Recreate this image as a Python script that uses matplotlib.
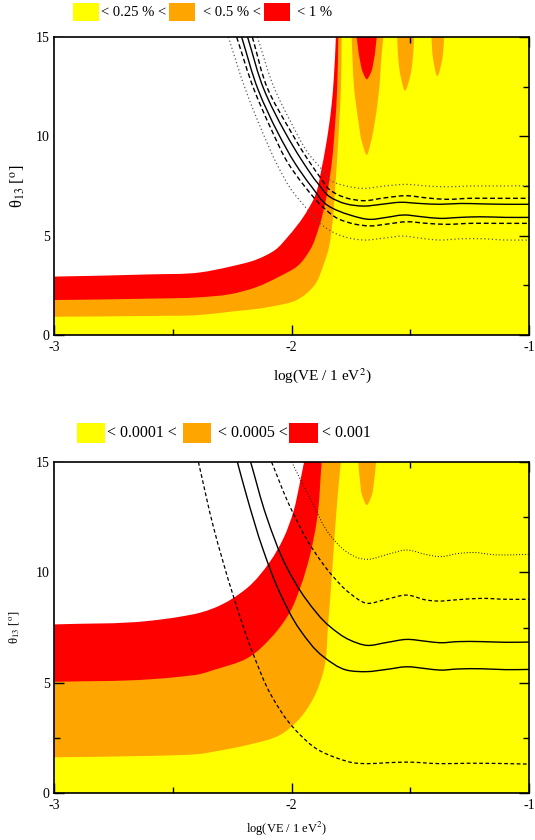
import matplotlib
matplotlib.use("Agg")
import math
import matplotlib.pyplot as plt
from matplotlib.patches import Rectangle, PathPatch
from matplotlib.path import Path

plt.rcParams['font.family'] = ['Liberation Serif', 'DejaVu Serif']
plt.rcParams['mathtext.fontset'] = 'stix'

YELLOW = '#ffff00'
ORANGE = '#ffa500'
RED = '#ff0000'

# ---------------- top panel data ----------------
top_legend = ['< 0.25 % <', '< 0.5 % <', '< 1 %']

# boundary white/red (x=log dm2, y=theta13)
t_red_top_x = [-3.0, -2.6, -2.385, -2.259, -2.147, -2.069, -2.015, -1.947, -1.901, -1.873, -1.845, -1.831, -1.822, -1.813]
t_red_top_y = [2.94, 3.05, 3.15, 3.44, 3.8, 4.28, 4.95, 6.0, 7.0, 8.4, 10.3, 11.6, 12.9, 15.0]
# boundary red/orange
t_red_bot_x = [-3.0, -2.6, -2.385, -2.26, -2.15, -2.05, -1.978, -1.922, -1.885, -1.852, -1.831, -1.817, -1.808, -1.803]
t_red_bot_y = [1.76, 1.83, 1.90, 2.05, 2.4, 2.95, 3.44, 4.28, 5.4, 7.0, 8.6, 10.5, 12.3, 15.0]
# boundary orange/yellow
t_or_bot_x = [-3.0, -2.6, -2.385, -2.259, -2.1, -1.978, -1.908, -1.866, -1.845, -1.828, -1.817, -1.807, -1.799, -1.792, -1.789]
t_or_bot_y = [0.92, 0.96, 1.01, 1.17, 1.4, 1.76, 2.43, 3.5, 4.28, 5.6, 7.3, 9.0, 10.65, 12.33, 15.0]

# fingers near the top
t_fing_red_x = [-1.726, -1.712, -1.698, -1.683, -1.667, -1.653, -1.641]
t_fing_red_y = [15.0, 13.84, 13.17, 12.87, 13.17, 13.84, 15.0]
t_fing_or1_x = [-1.747, -1.744, -1.737, -1.719, -1.702, -1.683, -1.667, -1.648, -1.630, -1.620, -1.613]
t_fing_or1_y = [15.0, 14.18, 12.5, 10.82, 9.65, 9.06, 9.65, 10.82, 12.5, 14.18, 15.0]
t_fing_or2_x = [-1.555, -1.550, -1.540, -1.522, -1.501, -1.490, -1.484]
t_fing_or2_y = [15.0, 13.84, 13.0, 12.30, 13.0, 13.84, 15.0]
t_fing_or3_x = [-1.411, -1.403, -1.386, -1.366, -1.357]
t_fing_or3_y = [15.0, 13.84, 13.03, 13.84, 15.0]

# curves (top panel)
t_dot_lo_x = [-2.266, -2.193, -2.126, -2.056, -2.0, -1.943, -1.873, -1.803, -1.745, -1.698, -1.61, -1.529, -1.45, -1.375, -1.29, -1.206, -1.1, -1.0]
t_dot_lo_y = [15.0, 12.33, 10.32, 8.47, 7.30, 6.46, 5.55, 5.05, 4.85, 4.78, 4.88, 4.98, 4.86, 4.78, 4.84, 4.85, 4.78, 4.78]
t_dash_lo_x = [-2.231, -2.157, -2.084, -2.014, -1.943, -1.873, -1.803, -1.733, -1.669, -1.60, -1.515, -1.43, -1.347, -1.25, -1.15, -1.0]
t_dash_lo_y = [15.0, 12.33, 10.32, 8.64, 7.46, 6.5, 5.85, 5.58, 5.49, 5.58, 5.70, 5.62, 5.57, 5.62, 5.62, 5.62]
t_sol_lo_x = [-2.210, -2.140, -2.056, -1.985, -1.915, -1.845, -1.754, -1.669, -1.60, -1.529, -1.45, -1.375, -1.29, -1.206, -1.1, -1.0]
t_sol_lo_y = [15.0, 12.33, 10.15, 8.64, 7.46, 6.5, 6.04, 5.82, 5.92, 6.04, 5.95, 5.87, 5.92, 5.95, 5.92, 5.92]
t_sol_up_x = [-2.185, -2.115, -2.027, -1.957, -1.887, -1.838, -1.77, -1.698, -1.62, -1.543, -1.46, -1.375, -1.29, -1.2, -1.1, -1.0]
t_sol_up_y = [15.0, 12.33, 10.2, 8.8, 7.6, 6.95, 6.6, 6.49, 6.58, 6.68, 6.62, 6.58, 6.62, 6.60, 6.58, 6.58]
t_dash_up_x = [-2.165, -2.098, -2.013, -1.943, -1.88, -1.838, -1.77, -1.698, -1.61, -1.515, -1.43, -1.347, -1.25, -1.15, -1.0]
t_dash_up_y = [15.0, 12.33, 10.45, 9.05, 7.95, 7.3, 6.9, 6.76, 6.9, 7.01, 6.9, 6.83, 6.88, 6.88, 6.88]
t_dot_up_x = [-2.144, -2.069, -2.0, -1.929, -1.859, -1.838, -1.77, -1.698, -1.61, -1.515, -1.43, -1.347, -1.25, -1.15, -1.0]
t_dot_up_y = [15.0, 12.33, 10.65, 9.14, 8.14, 7.8, 7.5, 7.38, 7.5, 7.58, 7.5, 7.46, 7.5, 7.5, 7.51]

# ---------------- bottom panel data ----------------
bot_legend = ['< 0.0001 <', '< 0.0005 <', '< 0.001']

b_red_top_x = [-3.0, -2.6, -2.469, -2.385, -2.329, -2.188, -2.091, -2.034, -1.992, -1.964, -1.947]
b_red_top_y = [7.64, 7.8, 7.99, 8.17, 8.37, 9.28, 10.48, 11.54, 12.75, 14.1, 15.0]
b_red_bot_x = [-3.0, -2.6, -2.469, -2.385, -2.329, -2.188, -2.076, -2.006, -1.964, -1.922, -1.894, -1.873]
b_red_bot_y = [5.04, 5.15, 5.27, 5.39, 5.57, 6.10, 7.16, 8.21, 9.28, 10.78, 12.29, 15.0]
b_or_bot_x = [-3.0, -2.6, -2.469, -2.385, -2.329, -2.188, -2.048, -1.978, -1.908, -1.866, -1.845, -1.824, -1.803, -1.792]
b_or_bot_y = [1.62, 1.68, 1.72, 1.77, 1.87, 2.17, 2.63, 3.23, 4.29, 5.50, 7.76, 10.78, 13.8, 15.0]
b_fing_or_x = [-1.719, -1.712, -1.701, -1.683, -1.664, -1.652, -1.644]
b_fing_or_y = [15.0, 14.18, 13.43, 13.05, 13.43, 14.18, 15.0]

b_dash_lo_x = [-2.392, -2.329, -2.245, -2.161, -2.084, -1.992, -1.880, -1.80, -1.740, -1.683, -1.60, -1.515, -1.375, -1.25, -1.0]
b_dash_lo_y = [15.0, 12.07, 8.93, 6.29, 4.40, 2.96, 1.91, 1.55, 1.37, 1.33, 1.37, 1.40, 1.33, 1.35, 1.31]
b_sol_lo_x = [-2.228, -2.188, -2.119, -2.048, -1.964, -1.866, -1.768, -1.683, -1.6, -1.515, -1.43, -1.375, -1.3, -1.2, -1.1, -1.0]
b_sol_lo_y = [15.0, 13.43, 11.01, 9.05, 7.39, 6.18, 5.57, 5.50, 5.6, 5.72, 5.63, 5.57, 5.62, 5.63, 5.59, 5.60]
b_sol_up_x = [-2.172, -2.105, -2.021, -1.936, -1.838, -1.754, -1.683, -1.6, -1.515, -1.43, -1.375, -1.3, -1.2, -1.1, -1.0]
b_sol_up_y = [15.0, 12.52, 10.25, 8.74, 7.54, 6.93, 6.69, 6.82, 6.96, 6.87, 6.81, 6.86, 6.86, 6.83, 6.84]
b_dash_up_x = [-2.084, -2.006, -1.908, -1.824, -1.754, -1.683, -1.6, -1.515, -1.43, -1.39, -1.3, -1.2, -1.1, -1.0]
b_dash_up_y = [15.0, 12.97, 11.01, 9.80, 9.05, 8.60, 8.78, 8.97, 8.74, 8.70, 8.76, 8.82, 8.78, 8.78]
b_dot_x = [-1.999, -1.908, -1.838, -1.768, -1.712, -1.683, -1.6, -1.515, -1.43, -1.375, -1.3, -1.234, -1.15, -1.0]
b_dot_y = [15.0, 13.05, 11.69, 10.93, 10.63, 10.59, 10.8, 11.01, 10.8, 10.71, 10.85, 10.9, 10.8, 10.81]

x_ticks = [-3, -2, -1]
x_tick_labels = ['-3', '-2', '-1']
x_minor = [-2.5, -1.5]
y_ticks = [0, 5, 10, 15]
y_minor = [2.5, 7.5, 12.5]
x_label = r'log(VE / 1 eV$^2$)'
y_label = r'θ$_{13}$ [$^{\rm o}$]'

W, H = 535, 840
fig = plt.figure(figsize=(W / 100, H / 100), dpi=100)


def smooth_segments(xs, ys):
    """Bezier path (Catmull-Rom style) passing through the given data points."""
    pts = list(zip(xs, ys))
    n = len(pts)
    t = [0.0]
    for i in range(1, n):
        d = math.hypot((pts[i][0] - pts[i - 1][0]) / 2.0, (pts[i][1] - pts[i - 1][1]) / 15.0)
        t.append(t[-1] + max(d, 1e-6))
    m = []
    for i in range(n):
        if i == 0:
            m.append(((pts[1][0] - pts[0][0]) / (t[1] - t[0]), (pts[1][1] - pts[0][1]) / (t[1] - t[0])))
        elif i == n - 1:
            m.append(((pts[i][0] - pts[i - 1][0]) / (t[i] - t[i - 1]), (pts[i][1] - pts[i - 1][1]) / (t[i] - t[i - 1])))
        else:
            mm = []
            for k in range(2):
                a = (pts[i][k] - pts[i - 1][k]) / (t[i] - t[i - 1])
                b = (pts[i + 1][k] - pts[i - 1][k]) / (t[i + 1] - t[i - 1])
                c = (pts[i + 1][k] - pts[i][k]) / (t[i + 1] - t[i])
                mm.append(a - b + c)
            m.append(tuple(mm))
    verts = [pts[0]]
    codes = [Path.MOVETO]
    for i in range(n - 1):
        dt = (t[i + 1] - t[i]) / 3.0
        c1 = (pts[i][0] + m[i][0] * dt, pts[i][1] + m[i][1] * dt)
        c2 = (pts[i + 1][0] - m[i + 1][0] * dt, pts[i + 1][1] - m[i + 1][1] * dt)
        verts += [c1, c2, pts[i + 1]]
        codes += [Path.CURVE4] * 3
    return verts, codes


def region_above(ax, bx, by, color, z):
    verts, codes = smooth_segments(bx, by)
    verts += [(bx[-1], 16.0), (-3.1, 16.0), (-3.1, by[0]), (bx[0], by[0])]
    codes += [Path.LINETO, Path.LINETO, Path.LINETO, Path.CLOSEPOLY]
    ax.add_patch(PathPatch(Path(verts, codes), facecolor=color, edgecolor='none', lw=0, zorder=z))


def finger(ax, fx, fy, color, z):
    verts, codes = smooth_segments(fx, fy)
    verts += [(fx[-1], 16.0), (fx[0], 16.0), (fx[0], fy[0])]
    codes += [Path.LINETO, Path.LINETO, Path.CLOSEPOLY]
    ax.add_patch(PathPatch(Path(verts, codes), facecolor=color, edgecolor='none', lw=0, zorder=z))


def curve(ax, cx, cy, color, ls, lw):
    verts, codes = smooth_segments(cx, cy)
    ax.add_patch(PathPatch(Path(verts, codes), fill=False, edgecolor=color,
                           linestyle=ls, lw=lw, zorder=5, capstyle='butt'))


def setup(ax, tick_fs):
    ax.set_xlim(-3, -1)
    ax.set_ylim(0, 15)
    ax.set_facecolor(YELLOW)
    ax.set_xticks(x_ticks)
    ax.set_xticklabels(x_tick_labels)
    ax.set_xticks(x_minor, minor=True)
    ax.set_yticks(y_ticks)
    ax.set_yticks(y_minor, minor=True)
    ax.tick_params(which='both', direction='in', top=True, right=True,
                   labelsize=tick_fs, width=1)
    ax.tick_params(axis='x', pad=4)
    ax.tick_params(axis='y', pad=3)
    ax.tick_params(which='major', length=7)
    ax.tick_params(which='minor', length=4)
    for s in ax.spines.values():
        s.set_linewidth(1.2)
        s.set_zorder(10)


def px_rect(x0, y0, x1, y1):
    return [x0 / W, 1 - y1 / H, (x1 - x0) / W, (y1 - y0) / H]


# ---------------- top panel ----------------
ax1 = fig.add_axes(px_rect(54, 37, 529, 335))
setup(ax1, 10)
region_above(ax1, t_or_bot_x, t_or_bot_y, ORANGE, 1)
finger(ax1, t_fing_or1_x, t_fing_or1_y, ORANGE, 1)
finger(ax1, t_fing_or2_x, t_fing_or2_y, ORANGE, 1)
finger(ax1, t_fing_or3_x, t_fing_or3_y, ORANGE, 1)
region_above(ax1, t_red_bot_x, t_red_bot_y, RED, 2)
finger(ax1, t_fing_red_x, t_fing_red_y, RED, 2)
region_above(ax1, t_red_top_x, t_red_top_y, 'white', 3)

dot_c = '0.35'
curve(ax1, t_dot_lo_x, t_dot_lo_y, dot_c, (0, (1, 2)), 0.9)
curve(ax1, t_dot_up_x, t_dot_up_y, dot_c, (0, (1, 2)), 0.9)
curve(ax1, t_dash_lo_x, t_dash_lo_y, 'black', (0, (3.5, 2)), 1.0)
curve(ax1, t_dash_up_x, t_dash_up_y, 'black', (0, (3.5, 2)), 1.0)
curve(ax1, t_sol_lo_x, t_sol_lo_y, 'black', '-', 1.0)
curve(ax1, t_sol_up_x, t_sol_up_y, 'black', '-', 1.0)

ax1.set_xlabel(x_label, fontsize=11)
ax1.xaxis.set_label_coords(0.566, -0.105)
ax1.set_ylabel(y_label, fontsize=12, labelpad=6)

# ---------------- bottom panel ----------------
ax2 = fig.add_axes(px_rect(54, 462, 529, 793))
setup(ax2, 10)
region_above(ax2, b_or_bot_x, b_or_bot_y, ORANGE, 1)
finger(ax2, b_fing_or_x, b_fing_or_y, ORANGE, 1)
region_above(ax2, b_red_bot_x, b_red_bot_y, RED, 2)
region_above(ax2, b_red_top_x, b_red_top_y, 'white', 3)

curve(ax2, b_dot_x, b_dot_y, 'black', (0, (1, 2)), 0.7)
curve(ax2, b_dash_lo_x, b_dash_lo_y, 'black', (0, (3, 2)), 0.9)
curve(ax2, b_dash_up_x, b_dash_up_y, 'black', (0, (3, 2)), 0.9)
curve(ax2, b_sol_lo_x, b_sol_lo_y, 'black', '-', 1.0)
curve(ax2, b_sol_up_x, b_sol_up_y, 'black', '-', 1.0)

ax2.set_xlabel(x_label, fontsize=9)
ax2.xaxis.set_label_coords(0.49, -0.08)
ax2.set_ylabel(y_label, fontsize=9, labelpad=10)

# ---------------- legends ----------------
def legend_row(boxes, texts, ytop, ybot, fs):
    cols = [YELLOW, ORANGE, RED]
    for (x0, x1), c in zip(boxes, cols):
        fig.add_artist(Rectangle((x0 / W, 1 - ybot / H), (x1 - x0) / W,
                                 (ybot - ytop) / H, transform=fig.transFigure,
                                 facecolor=c, edgecolor='none'))
    for (xt, s) in texts:
        fig.text(xt / W, 1 - (ytop + ybot) / 2 / H, s, fontsize=fs,
                 ha='left', va='center')


legend_row([(73, 99), (169, 195), (264, 290)],
           [(101, top_legend[0]), (203, top_legend[1]), (297, top_legend[2])],
           3, 21, 10.5)
legend_row([(77, 105), (183, 211), (289, 318)],
           [(107, bot_legend[0]), (218, bot_legend[1]), (322, bot_legend[2])],
           423, 443, 11.5)

fig.savefig('out.png', dpi=100)
